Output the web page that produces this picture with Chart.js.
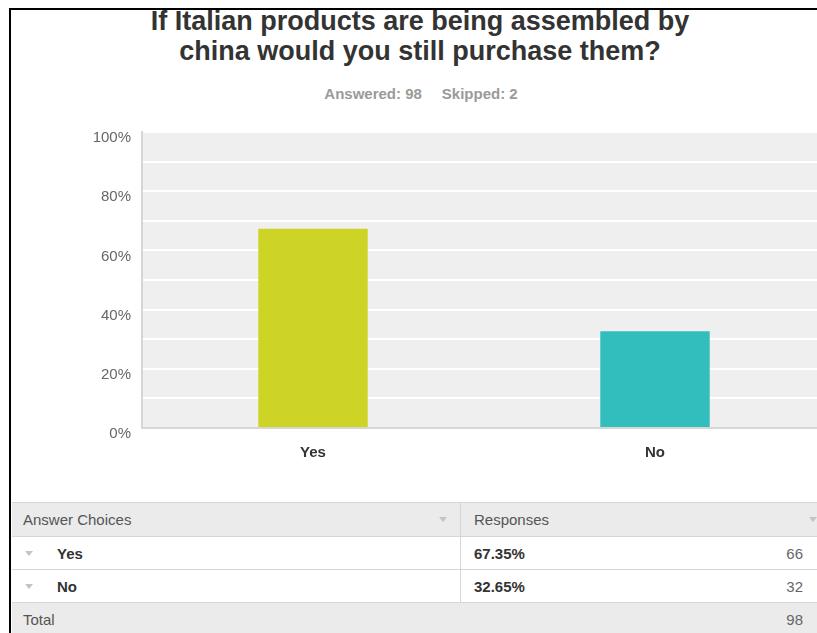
<!DOCTYPE html>
<html>
<head>
<meta charset="utf-8">
<script src="https://cdn.jsdelivr.net/npm/chart.js@4.4.1/dist/chart.umd.min.js"></script>
<style>
  html, body { margin: 0; padding: 0; }
  body {
    width: 817px; height: 633px; overflow: hidden; position: relative;
    background: #fff; font-family: "Liberation Sans", Arial, sans-serif;
  }
  .frame {
    position: absolute; left: 9px; top: 8px; width: 840px; height: 640px;
    border-left: 2px solid #000; border-top: 2px solid #000;
  }
  .title {
    position: absolute; left: 12px; width: 816px; top: 6px;
    text-align: center; font-weight: bold; font-size: 27px; line-height: 30px; color: #333;
  }
  .meta {
    position: absolute; left: 12px; width: 818px; top: 85px;
    text-align: center; font-weight: bold; font-size: 15px; color: #9a9a9a;
  }
  .meta span + span { margin-left: 20px; }
  .chart-box { position: absolute; left: 12px; top: 112px; width: 830px; height: 374px; }
  .table { position: absolute; left: 12px; top: 502px; width: 830px; font-size: 15px; color: #555; }
  .row { display: flex; box-sizing: border-box; border-bottom: 1px solid #d6d6d6; align-items: stretch; }
  .row.head { height: 35px; border-top: 1px solid #d6d6d6; background: #ebebeb; }
  .row.body { height: 33px; background: #fff; }
  .row.total { height: 33px; background: #ebebeb; border-bottom: none; }
  .cell { position: relative; display: flex; align-items: center; box-sizing: border-box; }
  .c1 { width: 449px; border-right: 1px solid #d6d6d6; padding-left: 11px; }
  .c2 { flex: 1; padding-left: 13px; }
  .total .c1 { border-right: none; }
  .arrow {
    width: 0; height: 0; border-left: 4px solid transparent; border-right: 4px solid transparent;
    border-top: 5px solid #c4c4c4; position: absolute;
  }
  .choice { font-weight: bold; color: #333; margin-left: 34px; }
  .pct { font-weight: bold; color: #333; }
  .count { position: absolute; left: 0; width: 342px; text-align: right; color: #666; }
</style>
</head>
<body>
<div class="frame"></div>
<div class="title">If Italian products are being assembled by<br>china would you still purchase them?</div>
<div class="meta"><span id="answered"></span><span id="skipped"></span></div>
<div class="chart-box"><canvas id="chart"></canvas></div>
<div class="table" id="table"></div>

<script>
  var categories = ["Yes", "No"];
  var percents = [67.35, 32.65];
  var counts = [66, 32];
  var barColors = ["#CED426", "#33BEBE"];
  var answered = 98;
  var skipped = 2;

  var colors = {
    plotBg: "#EFEFEF",
    grid: "#FFFFFF",
    axis: "#D6D6D6",
    tick: "#666666",
    label: "#333333",
  };
  var font = "'Liberation Sans', Arial, sans-serif";

  document.getElementById("answered").textContent = "Answered: " + answered;
  document.getElementById("skipped").textContent = "Skipped: " + skipped;

  // ── Response table ───────────────────────────────────────────────

  var html = '<div class="row head">' +
    '<div class="cell c1">Answer Choices<span class="arrow" style="left:427px"></span></div>' +
    '<div class="cell c2">Responses<span class="arrow" style="left:348px"></span></div></div>';
  categories.forEach(function (name, i) {
    html += '<div class="row body">' +
      '<div class="cell c1"><span class="arrow" style="left:13px"></span><span class="choice">' + name + '</span></div>' +
      '<div class="cell c2"><span class="pct">' + percents[i].toFixed(2) + '%</span>' +
      '<span class="count">' + counts[i] + '</span></div></div>';
  });
  var total = counts.reduce(function (a, b) { return a + b; }, 0);
  html += '<div class="row total"><div class="cell c1">Total</div>' +
    '<div class="cell c2"><span class="count">' + total + '</span></div></div>';
  document.getElementById("table").innerHTML = html;

  // ── Bar chart ────────────────────────────────────────────────────

  var plotBg = {
    id: "plotBg",
    beforeDraw: function (chart) {
      var a = chart.chartArea, ctx = chart.ctx;
      ctx.save();
      ctx.fillStyle = colors.plotBg;
      ctx.fillRect(a.left, a.top, a.right - a.left, a.bottom - a.top);
      ctx.restore();
    },
  };

  new Chart(document.getElementById("chart"), {
    type: "bar",
    data: {
      labels: categories,
      datasets: [{
        data: percents,
        backgroundColor: barColors,
        barPercentage: 0.32,
        categoryPercentage: 1,
      }],
    },
    plugins: [plotBg],
    options: {
      responsive: true,
      maintainAspectRatio: false,
      animation: false,
      layout: { padding: { top: 11, right: 16, left: 0, bottom: 0 } },
      plugins: { legend: { display: false }, tooltip: { enabled: false } },
      scales: {
        x: {
          afterFit: function (s) { s.height = 58; },
          grid: { display: false, drawTicks: false },
          border: { color: colors.axis, width: 2 },
          ticks: {
            color: colors.label, padding: 16,
            font: { family: font, size: 15, weight: "bold" },
          },
        },
        y: {
          min: 0, max: 100,
          afterFit: function (s) { s.width = 130; },
          grid: {
            drawTicks: false, lineWidth: 2,
            color: function (ctx) { return ctx.tick && ctx.tick.value === 0 ? colors.axis : colors.grid; },
          },
          border: { color: colors.axis, width: 2 },
          ticks: {
            stepSize: 10, padding: 11, labelOffset: 6,
            color: colors.tick,
            font: { family: font, size: 15 },
            callback: function (v) { return v % 20 === 0 ? v + "%" : ""; },
          },
        },
      },
    },
  });
</script>
</body>
</html>
